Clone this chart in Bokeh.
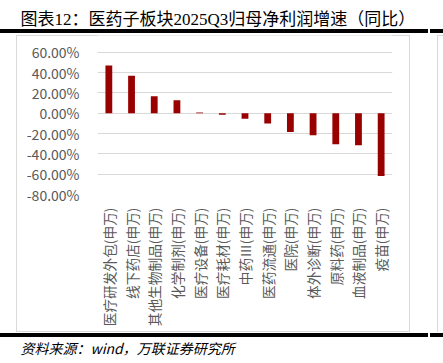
import math
from bokeh.plotting import figure
from bokeh.models import (ColumnDataSource, Range1d, FixedTicker, PrintfTickFormatter, Title)
from bokeh.embed import file_html
from bokeh.resources import INLINE

categories = ["医疗研发外包(申万)", "线下药店(申万)", "其他生物制品(申万)", "化学制剂(申万)",
              "医疗设备(申万)", "医疗耗材(申万)", "中药Ⅲ(申万)", "医药流通(申万)",
              "医院(申万)", "体外诊断(申万)", "原料药(申万)", "血液制品(申万)", "疫苗(申万)"]
growth = [47.0, 37.0, 16.7, 12.9, 0.8, -1.6, -5.5, -10.0, -18.4, -21.6, -30.6, -31.6, -61.8]
y_ticks = [-80, -60, -40, -20, 0, 20, 40, 60]

title_text = "图表12：医药子板块2025Q3归母净利润增速（同比）"
source_text = "资料来源：wind，万联证券研究所"

W, H = 443, 363
FL, FR, FB = 97, 392, 196  # frame edges in canvas px
TITLE_STANDOFF = 14
FT = 2 + 19 + TITLE_STANDOFF  # frame top: set by the title panel height
Y_LO, Y_HI = -80, 60
Y_TOP_PX = 52  # pixel of 60% gridline
y_end = Y_HI + (Y_TOP_PX - FT) * (Y_HI - Y_LO) / (FB - Y_TOP_PX)


def grad(x, y, w, h, color):
    return (f"linear-gradient({color},{color})", f"{x}px {y}px", f"{w}px {h}px")


rules = [
    grad(0, 29, 428, 4, "#000"), grad(430, 29, 13, 4, "#000"),
    grad(0, 333, 428, 4, "#000"), grad(430, 333, 13, 4, "#000"),
    grad(16, 35, 394, 1, "#D9D9D9"), grad(16, 331, 394, 1, "#D9D9D9"),
    grad(16, 35, 1, 297, "#D9D9D9"), grad(409, 35, 1, 297, "#D9D9D9"),
    grad(437, 35, 1, 297, "#D9D9D9"), grad(437, 35, 6, 1, "#D9D9D9"),
]
css = {
    "background-color": "white",
    "background-image": ", ".join(r[0] for r in rules),
    "background-position": ", ".join(r[1] for r in rules),
    "background-size": ", ".join(r[2] for r in rules),
    "background-repeat": "no-repeat",
}

src = ColumnDataSource(dict(cat=categories, val=growth))

p = figure(width=W, height=H, x_range=categories, y_range=Range1d(Y_LO, y_end),
           output_backend="svg", toolbar_location=None,
           min_border_left=FL, min_border_right=W - FR,
           min_border_top=0, min_border_bottom=H - FB, styles=css)
p.outline_line_color = None
p.background_fill_color = "white"
p.border_fill_color = None

p.vbar(x="cat", top="val", bottom=0, width=0.3, source=src,
       fill_color="#990000", line_color=None)

p.yaxis.ticker = FixedTicker(ticks=y_ticks)
p.yaxis.formatter = PrintfTickFormatter(format="%.2f%%")
p.yaxis.axis_line_color = None
p.yaxis.major_tick_line_color = None
p.yaxis.minor_tick_line_color = None
p.yaxis.major_label_standoff = 12
p.yaxis.major_label_text_font = "Noto Sans CJK SC"
p.yaxis.major_label_text_font_size = "14px"
p.yaxis.major_label_text_color = "#595959"

p.xaxis.axis_line_color = None
p.xaxis.major_tick_line_color = None
p.xaxis.minor_tick_line_color = None
p.xaxis.major_label_orientation = math.pi / 2
p.xaxis.major_label_standoff = 7
p.xaxis.major_label_text_font = "Noto Sans CJK SC"
p.xaxis.major_label_text_font_size = "13.7px"
p.xaxis.major_label_text_color = "#595959"

p.xgrid.grid_line_color = None
p.ygrid.ticker = FixedTicker(ticks=y_ticks)
p.ygrid.grid_line_color = "#D9D9D9"
p.ygrid.grid_line_width = 1

p.add_layout(Title(text=title_text, align="left", offset=20 - FL, standoff=TITLE_STANDOFF,
                   text_font="'Liberation Serif', 'Noto Sans CJK SC'",
                   text_font_size="17px", text_font_style="normal",
                   text_color="#000000"), "above")
p.add_layout(Title(text=source_text, align="left", offset=20 - FL, standoff=12,
                   text_font="'Noto Sans CJK SC'", text_font_size="14px",
                   text_font_style="italic", text_color="#000000"), "below")

open("out.html", "w").write(file_html(p, INLINE))
